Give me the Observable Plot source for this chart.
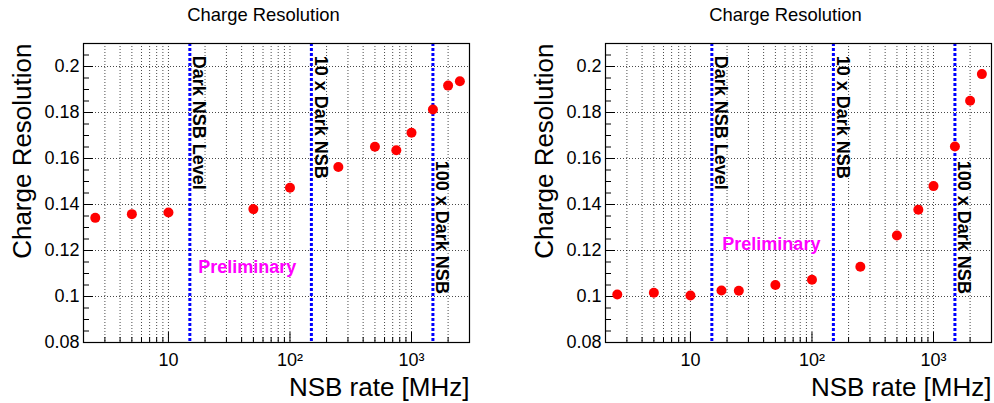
<!DOCTYPE html>
<html>
<head>
<meta charset="utf-8">
<script src="https://cdn.jsdelivr.net/npm/d3@7"></script>
<script src="https://cdn.jsdelivr.net/npm/@observablehq/plot@0.6"></script>
<style>
  html, body { margin: 0; padding: 0; background: white; }
  #wrap { display: flex; width: 994px; height: 403px; }
</style>
</head>
<body>
<div id="wrap"></div>
<script>
// ---- data ----
const nsbLeft  = [2.5, 5, 10, 50, 100, 250, 500, 750, 1000, 1500, 2000, 2500];
const resLeft  = [0.1342, 0.1358, 0.1365, 0.1380, 0.1473, 0.1563, 0.1651, 0.1636, 0.1712, 0.1813, 0.1917, 0.1936];
const nsbRight = [2.5, 5, 10, 18, 25, 50, 100, 250, 500, 750, 1000, 1500, 2000, 2500];
const resRight = [0.1009, 0.1016, 0.1004, 0.1026, 0.1025, 0.1050, 0.1073, 0.1129, 0.1265, 0.1377, 0.1480, 0.1652, 0.1851, 0.1967];

const refRates  = [15, 150, 1500];
const refLabels = ["Dark NSB Level", "10 x Dark NSB", "100 x Dark NSB"];
const refLabelY = [0.2047, 0.2047, 0.159];

const prelimLeft  = {x: 17.6, y: 0.1126};
const prelimRight = {x: 18.3, y: 0.1226};

const xMajor = [10, 100, 1000];
const xMajorLabels = ["10", "10\u00B2", "10\u00B3"];
const yMajor = [0.08, 0.10, 0.12, 0.14, 0.16, 0.18, 0.20];
const yMajorLabels = ["0.08", "0.1", "0.12", "0.14", "0.16", "0.18", "0.2"];

const titleText = "Charge Resolution";
const yTitle = "Charge Resolution";
const xTitle = "NSB rate [MHz]";

// tick positions (log minor ticks: integer multiples of each decade)
const xDomain = [2, 3000];
const xMinor = [];
for (const dec of [1, 10, 100, 1000]) {
  for (let m = 1; m <= 9; m++) {
    const v = m * dec;
    if (v >= xDomain[0] && v <= xDomain[1] && !xMajor.includes(v)) xMinor.push(v);
  }
}
const yDomain = [0.08, 0.21];
const yMinor = d3.range(16, 43).map(k => k * 0.005).filter(v => !yMajor.some(t => Math.abs(t - v) < 1e-9));

const FONT = "'Liberation Sans', Arial, Helvetica, sans-serif";

function panel(xs, ys, prelim, marginLeft, marginRight) {
  const W = 497, H = 403, mt = 43, mb = 61;
  const plotW = W - marginLeft - marginRight;
  const plotH = H - mt - mb;
  const pts = xs.map((x, i) => ({x, y: ys[i]}));
  const refs = refRates.map((r, i) => ({x: r, y: refLabelY[i], label: refLabels[i]}));
  return Plot.plot({
    width: W, height: H,
    marginLeft, marginRight, marginTop: mt, marginBottom: mb,
    style: {fontFamily: FONT, background: "white", color: "black"},
    x: {type: "log", domain: xDomain, axis: null},
    y: {domain: yDomain, axis: null},
    marks: [
      // grid
      Plot.ruleX(xMinor.concat(xMajor), {stroke: "black", strokeWidth: 0.8, strokeDasharray: "1 2", strokeOpacity: 0.9}),
      Plot.ruleY(yMajor.filter(v => v > yDomain[0]), {stroke: "black", strokeWidth: 0.8, strokeDasharray: "1 2", strokeOpacity: 0.9}),
      // inward ticks
      Plot.tickY(yMajor, {y: d => d, insetRight: plotW - 10, stroke: "black"}),
      Plot.tickY(yMinor, {y: d => d, insetRight: plotW - 6, stroke: "black"}),
      Plot.tickX(xMajor, {x: d => d, insetTop: plotH - 10, stroke: "black"}),
      Plot.tickX(xMinor, {x: d => d, insetTop: plotH - 5, stroke: "black"}),
      // tick labels
      Plot.axisY(yMajor, {anchor: "left", tickSize: 0, tickPadding: 4, fontSize: 18,
        tickFormat: d => yMajorLabels[yMajor.indexOf(d)], label: null}),
      Plot.axisX(xMajor, {anchor: "bottom", tickSize: 0, tickPadding: 11, fontSize: 18,
        tickFormat: d => xMajorLabels[xMajor.indexOf(d)], label: null}),
      // reference lines
      Plot.ruleX(refs, {x: "x", stroke: "#0000ff", strokeWidth: 3, strokeDasharray: "3 2"}),
      Plot.text(refs, {x: "x", y: "y", text: "label", rotate: 90, textAnchor: "start", lineAnchor: "middle",
        dx: 9, fontSize: 18, fontWeight: "bold", fill: "black"}),
      // preliminary
      Plot.text([prelim], {x: "x", y: "y", text: () => "Preliminary", textAnchor: "start", lineAnchor: "middle",
        fontSize: 18, fontWeight: "bold", fill: "#ff00ff"}),
      // data
      Plot.dot(pts, {x: "x", y: "y", r: 5, fill: "#ff0000", stroke: "none"}),
      Plot.frame({stroke: "black", strokeWidth: 1.2}),
      // titles
      Plot.text([titleText], {frameAnchor: "top", lineAnchor: "middle", textAnchor: "middle", dx: -13, dy: -28, fontSize: 18.4, fill: "black"}),
      Plot.text([yTitle], {frameAnchor: "top-left", rotate: -90, textAnchor: "end", lineAnchor: "middle", dx: -61, fontSize: 26, fill: "black"}),
      Plot.text([xTitle], {frameAnchor: "bottom-right", textAnchor: "end", lineAnchor: "middle", dy: 45, fontSize: 26, fill: "black"})
    ]
  });
}

const wrap = document.getElementById("wrap");
wrap.appendChild(panel(nsbLeft, resLeft, prelimLeft, 83, 28));
wrap.appendChild(panel(nsbRight, resRight, prelimRight, 108, 3));
</script>
</body>
</html>
